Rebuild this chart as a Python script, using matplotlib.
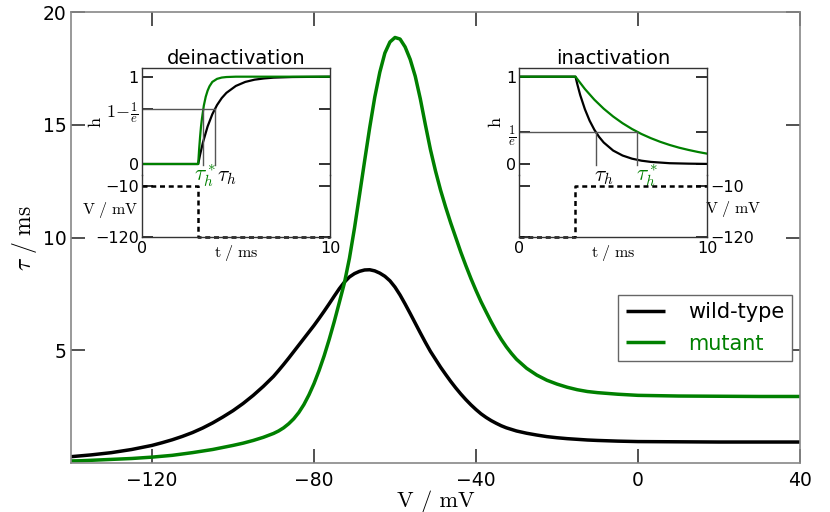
import matplotlib
matplotlib.use('Agg')
import matplotlib.pyplot as plt

plt.rcParams['mathtext.fontset'] = 'cm'
plt.rcParams['font.family'] = ['DejaVu Sans']
plt.rcParams['axes.unicode_minus'] = True

# ---------------- main panel data ----------------
voltage = [-140, -137.5, -135, -132.5, -130, -127.5, -125, -122.5, -120, -117.5, -115,
           -112.5, -110, -107.5, -105, -102.5, -100, -97.5, -95, -92.5, -90, -88.75,
           -87.5, -86.25, -85, -83.75, -82.5, -81.25, -80, -78.75, -77.5, -76.25, -75,
           -73.75, -72.5, -71.25, -70, -68.75, -67.5, -66.25, -65, -63.75, -62.5, -61.25,
           -60, -58.75, -57.5, -56.25, -55, -53.75, -52.5, -51.25, -50, -48.75, -47.5,
           -46.25, -45, -43.75, -42.5, -41.25, -40, -38.75, -37.5, -36.25, -35, -33.75,
           -32.5, -31.25, -30, -27.5, -25, -22.5, -20, -17.5, -15, -12.5, -10, -5, 0,
           10, 20, 30, 40]
tau_wild = [0.28, 0.32, 0.36, 0.41, 0.46, 0.53, 0.60, 0.69, 0.78, 0.90, 1.03,
            1.18, 1.35, 1.55, 1.78, 2.04, 2.32, 2.64, 3.00, 3.40, 3.84, 4.10,
            4.37, 4.65, 4.94, 5.23, 5.52, 5.81, 6.10, 6.41, 6.73, 7.06, 7.40,
            7.73, 8.02, 8.25, 8.40, 8.50, 8.56, 8.57, 8.52, 8.42, 8.28, 8.08,
            7.80, 7.45, 7.05, 6.63, 6.20, 5.77, 5.35, 4.95, 4.60, 4.25, 3.93,
            3.62, 3.33, 3.06, 2.81, 2.58, 2.37, 2.18, 2.02, 1.88, 1.76, 1.65,
            1.56, 1.49, 1.42, 1.32, 1.24, 1.17, 1.12, 1.08, 1.05, 1.02, 1.00, 0.97, 0.95,
            0.94, 0.93, 0.93, 0.93]
tau_mutant = [0.09, 0.10, 0.12, 0.14, 0.16, 0.18, 0.20, 0.23, 0.26, 0.30, 0.34,
              0.40, 0.46, 0.53, 0.60, 0.69, 0.78, 0.88, 1.00, 1.14, 1.31, 1.42,
              1.56, 1.74, 1.96, 2.24, 2.59, 3.02, 3.52, 4.10, 4.75, 5.48, 6.27,
              7.12, 7.98, 9.08, 10.42, 11.90, 13.40, 14.87, 16.22, 17.33, 18.18, 18.67,
              18.87, 18.80, 18.45, 17.90, 17.15, 16.15, 15.00, 13.90, 12.95, 12.10, 11.35,
              10.65, 10.00, 9.35, 8.75, 8.18, 7.65, 7.15, 6.70, 6.26, 5.85, 5.48,
              5.15, 4.86, 4.60, 4.20, 3.90, 3.67, 3.50, 3.36, 3.25, 3.17, 3.12, 3.05, 3.00,
              2.97, 2.96, 2.95, 2.95]
series_labels = ['wild-type', 'mutant']
series_colors = ['black', '#008000']
x_ticks = [-120, -80, -40, 0, 40]
y_ticks = [5, 10, 15, 20]

# ---------------- inset: deinactivation ----------------
t_de_wild = [0, 3, 3.1, 3.25, 3.5, 3.75, 4, 4.25, 4.5, 5, 5.5, 6, 6.5, 7, 8, 10]
h_de_wild = [0, 0, 0.106, 0.245, 0.43, 0.57, 0.675, 0.755, 0.815, 0.894, 0.94, 0.966,
             0.98, 0.989, 0.996, 1.0]
t_de_mut = [0, 3, 3.05, 3.1, 3.15, 3.2, 3.3, 3.4, 3.5, 3.6, 3.75, 4, 4.25, 4.5, 5, 10]
h_de_mut = [0, 0, 0.17, 0.31, 0.43, 0.52, 0.67, 0.77, 0.84, 0.89, 0.94, 0.975, 0.99,
            0.996, 1.0, 1.0]
t_de_volt = [0, 3, 3, 10]
v_de_volt = [-10, -10, -120, -120]
de_cross = [3.89, 3.27]          # wild-type, mutant time at 1-1/e
de_level = 0.632
de_hticks = [0, 0.632, 1]
de_hticklabels = ['0', r'$1\!-\!\frac{1}{e}$', '1']

# ---------------- inset: inactivation ----------------
t_in_wild = [0, 3, 3.1, 3.25, 3.5, 3.75, 4, 4.25, 4.5, 5, 5.5, 6, 6.5, 7, 8, 9, 10]
h_in_wild = [1, 1, 0.911, 0.79, 0.627, 0.496, 0.393, 0.311, 0.246, 0.154, 0.097, 0.061,
             0.038, 0.024, 0.009, 0.004, 0.001]
t_in_mut = [0, 3, 3.5, 4, 4.5, 5, 5.5, 6, 6.5, 7, 7.5, 8, 8.5, 9, 9.5, 10]
h_in_mut = [1, 1, 0.859, 0.737, 0.633, 0.544, 0.467, 0.401, 0.344, 0.296, 0.254, 0.218,
            0.187, 0.161, 0.138, 0.118]
t_in_volt = [0, 3, 3, 10]
v_in_volt = [-120, -120, -10, -10]
in_cross = [4.07, 6.28]
in_level = 0.368
in_hticks = [0, 0.368, 1]
in_hticklabels = ['0', r'$\frac{1}{e}$', '1']

W, H = 830, 512
fig = plt.figure(figsize=(W / 100, H / 100), dpi=100)


def fx(px):
    return px / W


def fy(py):
    return 1 - py / H


# ---------------- main axes ----------------
ax = fig.add_axes([fx(71), fy(463), fx(800) - fx(71), fy(12) - fy(463)])
for y, lab, col in zip([tau_wild, tau_mutant], series_labels, series_colors):
    ax.plot(voltage, y, color=col, lw=2.5, label=lab, solid_capstyle='butt')
ax.set_xlim(-140, 40)
ax.set_ylim(0, 20)
ax.set_xticks(x_ticks)
ax.set_yticks(y_ticks)
for s in ax.spines.values():
    s.set_color('#888888')
    s.set_linewidth(1.2)
ax.tick_params(direction='in', length=10, width=1.2, color='#333333', labelsize=13.5,
               top=True, right=True)
ax.tick_params(axis='x', pad=6)
ax.tick_params(axis='y', pad=3)
ax.set_xlabel('V / mV', fontsize=16, family='cmr10', labelpad=0)
ax.set_ylabel(r'$\tau\ /\ \mathrm{ms}$', fontsize=17, labelpad=3)
leg = ax.legend(loc='upper right', bbox_to_anchor=(0.9886, 0.3725), fontsize=15,
                frameon=True, fancybox=False, framealpha=1, edgecolor='#666666',
                handlelength=1.9, handletextpad=1.1, labelspacing=0.55,
                borderpad=0.35, labelcolor='linecolor', borderaxespad=0)
leg.get_frame().set_linewidth(1.0)
for ln in leg.get_lines():
    ln.set_linewidth(2.5)


def make_inset(left_px, title):
    right_px = left_px + 188.3
    axh = fig.add_axes([fx(left_px), fy(175), fx(right_px) - fx(left_px), fy(68.3) - fy(175)])
    axv = fig.add_axes([fx(left_px), fy(237.3), fx(right_px) - fx(left_px), fy(175) - fy(237.3)])
    for a in (axh, axv):
        a.set_facecolor('none')
        a.set_xlim(0, 10)
        for s in a.spines.values():
            s.set_color('#333333')
            s.set_linewidth(1.0)
        a.tick_params(direction='in', length=8, width=1.3, color='#222222', labelsize=11.5,
                      pad=2, left=True, right=True)
    axh.spines['bottom'].set_visible(False)
    axv.spines['top'].set_visible(False)
    axh.set_ylim(-0.126, 1.096)
    axv.set_ylim(-120, 12.8)
    axh.set_xticks([])
    axv.set_xticks([0, 10])
    axv.tick_params(axis='x', length=0, pad=3)
    axv.set_yticks([-120, -10])
    axh.set_title(title, fontsize=14, pad=2)
    axv.set_xlabel(r'$\mathrm{t\ /\ ms}$', fontsize=11.5)
    axv.xaxis.set_label_coords(0.5, -0.085)
    axh.set_ylabel(r'$\mathrm{h}$', fontsize=13, labelpad=1)
    return axh, axv


# deinactivation inset
axh, axv = make_inset(141.7, 'deinactivation')
axh.plot(t_de_wild, h_de_wild, color=series_colors[0], lw=1.6)
axh.plot(t_de_mut, h_de_mut, color=series_colors[1], lw=1.6)
axh.plot([0, de_cross[0]], [de_level, de_level], color='#555555', lw=1.0)
for tc in de_cross:
    axh.plot([tc, tc], [de_level, -0.01], color='#555555', lw=1.0)
axh.set_yticks(de_hticks)
axh.set_yticklabels(de_hticklabels)
axh.get_yticklabels()[1].set_fontsize(13)
axh.tick_params(axis='y', labelright=False)
axh.text(2.8, 0.015, r'$\tau_h^*$', color=series_colors[1], fontsize=15.5, ha='left', va='top')
axh.text(3.98, -0.04, r'$\tau_h$', color=series_colors[0], fontsize=15.5, ha='left', va='top')
axv.plot(t_de_volt, v_de_volt, color='black', lw=1.8, ls=(0, (2, 1.5)), clip_on=False)
axv.tick_params(axis='y', labelright=False)
axv.set_ylabel(r'$\mathrm{V\ /\ mV}$', fontsize=11.5, rotation=0, ha='center', va='center')
axv.yaxis.set_label_coords(-0.165, 0.44)

# inactivation inset
axh2, axv2 = make_inset(519, 'inactivation')
axh2.plot(t_in_wild, h_in_wild, color=series_colors[0], lw=1.6)
axh2.plot(t_in_mut, h_in_mut, color=series_colors[1], lw=1.6)
axh2.plot([0, in_cross[1]], [in_level, in_level], color='#555555', lw=1.0)
for tc in in_cross:
    axh2.plot([tc, tc], [in_level, -0.01], color='#555555', lw=1.0)
axh2.set_yticks(in_hticks)
axh2.set_yticklabels(in_hticklabels)
axh2.get_yticklabels()[1].set_fontsize(13)
axh2.tick_params(axis='y', labelright=False)
axh2.text(3.98, -0.04, r'$\tau_h$', color=series_colors[0], fontsize=15.5, ha='left', va='top')
axh2.text(6.2, 0.015, r'$\tau_h^*$', color=series_colors[1], fontsize=15.5, ha='left', va='top')
axv2.plot(t_in_volt, v_in_volt, color='black', lw=1.8, ls=(0, (2, 1.5)), clip_on=False)
axv2.tick_params(axis='y', labelleft=False, labelright=True)
axv2.yaxis.set_label_position('right')
axv2.set_ylabel(r'$\mathrm{V\ /\ mV}$', fontsize=11.5, rotation=0, ha='center', va='center')
axv2.yaxis.set_label_coords(1.135, 0.45)

fig.savefig('out.png', dpi=100)
